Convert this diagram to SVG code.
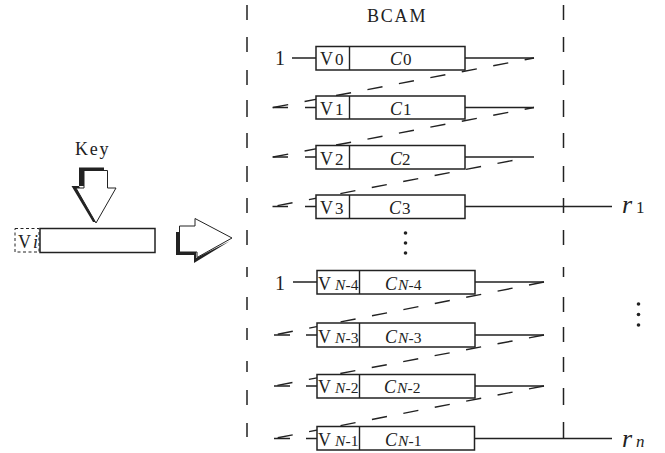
<svg xmlns="http://www.w3.org/2000/svg" width="665" height="453" viewBox="0 0 665 453">
<style>
text{font-family:"Liberation Serif","Times New Roman",serif;font-size:18px;fill:#222}
.i{font-style:italic}
.s{font-size:15.500px}
.b{font-size:17px}
.one{font-size:20px}
.r{font-size:26px;font-style:italic}
.box{fill:#fff;stroke:#222;stroke-width:1.500}
.ln{fill:none;stroke:#222;stroke-width:1.400}
.d{fill:none;stroke:#222;stroke-width:1.400;stroke-dasharray:15.300 16.700}
.v{fill:none;stroke:#222;stroke-width:1.500}
.dot{fill:#222}
</style>
<g id="connectors">
<path class="v" d="M247 5V20M247 37V52M247 70V85M247 100V117M247 133V148M247 166V182M247 198V213M247 230V245M247 267V277M247 297V310M247 328V340M247 361V372M247 390V405M247 423V437"/>
<path class="v" d="M563.500 5V20M563.500 37V52M563.500 70V85M563.500 100V117M563.500 133V148M563.500 166V182M563.500 198V213M563.500 230V245M563.500 267V277M563.500 297V312M563.500 327V342M563.500 357V372M563.500 388V405M563.500 422V438"/>
<path class="ln" d="M292 58H316M465 58H534M465 107.500H534M465 157H534M465 206.500H612M305 107.500H316M305 157H316M305 206.500H316M272.500 107.500H288M272.500 157H288M272.500 206.500H288"/>
<path class="ln" d="M293 282H317M475 282H544M475 335H544M475 386H544M475 438.500H612M306 335H317M306 386H317M306 438.500H317M274 335H290M274 386H290M274 438.500H290"/>
<path class="d" stroke-dashoffset="5.800" d="M534 58L273 107.500"/>
<path class="d" stroke-dashoffset="5.800" d="M534 107.500L273 157"/>
<path class="d" d="M512.500 160.500L273 206.500"/>
<path class="d" d="M544 282L274 335"/>
<path class="d" d="M544 335L274 386"/>
<path class="d" d="M544 386L274 438.500"/>
</g>
<g id="key-arrow">
<path fill="#222" d="M79 167.500H104V172H85V186H79L96 222L93 222L71.500 186H79Z"/>
<path fill="#fff" stroke="#222" d="M84 170.500H107.500V188H116L96 223L76 188H84Z"/>
<text x="75" y="155" letter-spacing="1.800">Key</text>
</g>
<g id="register">
<rect x="15" y="228.500" width="24" height="23.500" fill="none" stroke="#222" stroke-dasharray="3 2.500"/>
<rect class="box" x="40" y="228.500" width="115" height="24"/>
<text x="18" y="248">V</text><text x="33" y="248" class="i">i</text>
</g>
<g id="flow-arrow">
<path fill="#222" d="M176 232H181V250H196V258L230 241L194 263V255H176Z"/>
<path fill="#fff" stroke="#222" d="M179.500 226H195V218.500L232 238L197 257.500V252H179.500Z"/>
</g>
<g id="bcam-title"><text x="367" y="22" letter-spacing="1.800">BCAM</text></g>
<g id="row0"><text x="275" y="65" class="one">1</text><rect class="box" x="316" y="46.500" width="149" height="23.500"/><path class="ln" d="M349.500 46.500V70"/><text x="320" y="64.500">V</text><text x="335" y="64.500" class="b">0</text><text x="390" y="64.500" class="i">C</text><text x="403" y="64.500" class="b">0</text></g>
<g id="row1"><rect class="box" x="316" y="96" width="149" height="23"/><path class="ln" d="M349.500 96V119"/><text x="320" y="115">V</text><text x="335" y="115" class="b">1</text><text x="390" y="115" class="i">C</text><text x="403" y="115" class="b">1</text></g>
<g id="row2"><rect class="box" x="316" y="145.500" width="149" height="23.500"/><path class="ln" d="M349.500 145.500V169"/><text x="320" y="165">V</text><text x="335" y="165" class="b">2</text><text x="390" y="165" class="i">C</text><text x="402" y="165" class="b">2</text></g>
<g id="row3"><rect class="box" x="316" y="195" width="149" height="23.500"/><path class="ln" d="M349.500 195V218.500"/><text x="320" y="214">V</text><text x="335" y="214" class="b">3</text><text x="389" y="214" class="i">C</text><text x="402" y="214" class="b">3</text></g>
<g id="rowN4"><text x="275" y="290" class="one">1</text><rect class="box" x="317" y="270.500" width="158" height="23.500"/><path class="ln" d="M359.500 270.500V294"/><text x="318" y="290">V</text><text x="335" y="290" class="i s">N</text><text x="345.500" y="290" class="s">-4</text><text x="385" y="290" class="i">C</text><text x="398" y="290" class="i s">N</text><text x="408.500" y="290" class="s">-4</text></g>
<g id="rowN3"><rect class="box" x="317" y="323" width="158" height="24"/><path class="ln" d="M359.500 323V347"/><text x="318" y="343">V</text><text x="335" y="343" class="i s">N</text><text x="345.500" y="343" class="s">-3</text><text x="385" y="343" class="i">C</text><text x="398" y="343" class="i s">N</text><text x="408.500" y="343" class="s">-3</text></g>
<g id="rowN2"><rect class="box" x="317" y="374.500" width="158" height="23.500"/><path class="ln" d="M359.500 374.500V398"/><text x="318" y="393">V</text><text x="335" y="393" class="i s">N</text><text x="345.500" y="393" class="s">-2</text><text x="384" y="393" class="i">C</text><text x="397" y="393" class="i s">N</text><text x="407.500" y="393" class="s">-2</text></g>
<g id="rowN1"><rect class="box" x="317" y="426.500" width="157.500" height="23.500"/><path class="ln" d="M359.500 426.500V450"/><text x="318" y="445.500">V</text><text x="335" y="445.500" class="i s">N</text><text x="345.500" y="445.500" class="s">-1</text><text x="385" y="445.500" class="i">C</text><text x="398" y="445.500" class="i s">N</text><text x="408.500" y="445.500" class="s">-1</text></g>
<g id="dots-mid"><circle class="dot" cx="405.500" cy="233" r="1.800"/><circle class="dot" cx="405.500" cy="243" r="1.800"/><circle class="dot" cx="405.500" cy="253" r="1.800"/></g>
<g id="dots-right"><circle class="dot" cx="638.500" cy="304" r="1.800"/><circle class="dot" cx="638.500" cy="314.500" r="1.800"/><circle class="dot" cx="638.500" cy="325" r="1.800"/></g>
<g id="r1"><text x="622" y="213" class="r">r</text><text x="636" y="213" class="b">1</text></g>
<g id="rn"><text x="622" y="446.500" class="r">r</text><text x="636" y="446.500" class="i b">n</text></g>
</svg>
